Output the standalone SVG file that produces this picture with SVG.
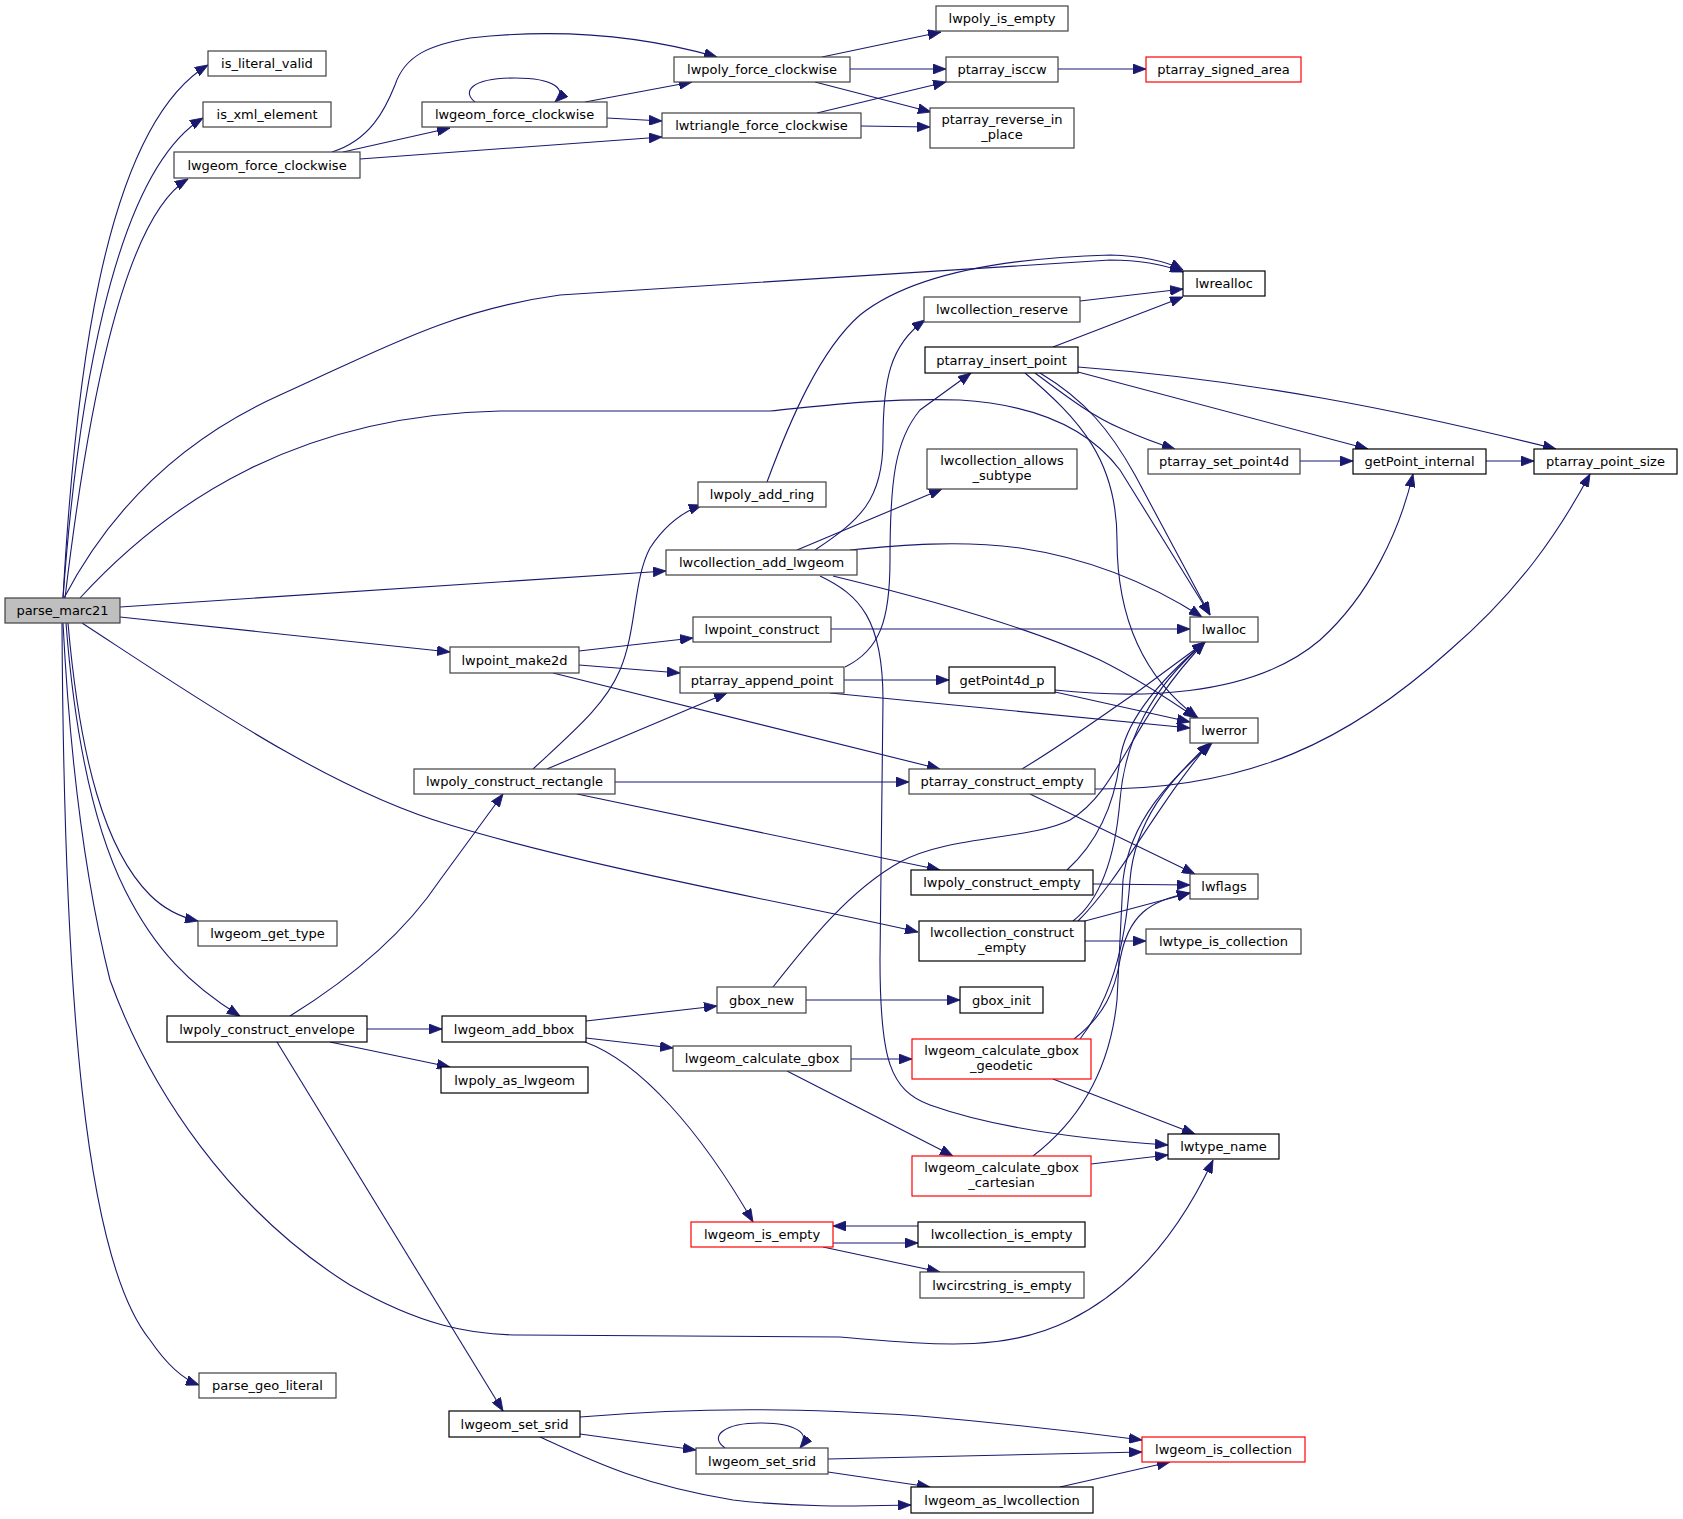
<svg xmlns="http://www.w3.org/2000/svg" width="1683" height="1519" viewBox="0 0 1683 1519">
<style>
rect.n{fill:#ffffff;stroke:#404040;stroke-width:1.2}
rect.k{fill:#ffffff;stroke:#000000;stroke-width:1.2}
rect.r{fill:#ffffff;stroke:#ff0000;stroke-width:1.2}
rect.g{fill:#bfbfbf;stroke:#404040;stroke-width:1.2}
text{font-family:"DejaVu Sans","Liberation Sans",sans-serif;font-size:13px;fill:#000000;text-anchor:middle}
#edges path{fill:none;stroke:#191970;stroke-width:1.1;marker-end:url(#a)}
</style>
<defs>
<marker id="a" markerUnits="userSpaceOnUse" viewBox="0 0 14 10" markerWidth="14" markerHeight="10" refX="13" refY="5" orient="auto">
<path d="M0,0 L13,5 L0,10 z" fill="#191970" stroke="#191970" stroke-width="0.8"/>
</marker>
</defs>
<rect x="0" y="0" width="1683" height="1519" fill="#ffffff"/>
<g id="edges">
<path d="M63,598 C74,400 100,130 208,65"/>
<path d="M63,598 C76,420 110,175 203,118"/>
<path d="M65,598 C85,430 120,220 188,179"/>
<path d="M64,598 C110,510 180,440 280,395 C380,350 450,310 560,295 L1110,260 C1140,260 1165,265 1183,272"/>
<path d="M80,598 C170,500 300,415 500,411 L770,411 C830,405 880,398 960,400 C1040,405 1090,430 1120,470 L1210,615"/>
<path d="M120,607 L666,571"/>
<path d="M120,617 L450,652"/>
<path d="M82,623 C200,700 330,790 450,825 C600,870 800,905 918,932"/>
<path d="M68,623 C80,760 105,850 150,895 C165,910 180,917 198,921"/>
<path d="M66,623 C75,740 95,830 125,890 C155,950 190,985 240,1016"/>
<path d="M63,623 C70,760 85,880 110,980 C150,1090 230,1210 350,1285 C420,1325 470,1335 520,1335 L840,1337 C950,1347 1010,1350 1070,1320 C1140,1285 1185,1220 1213,1160"/>
<path d="M62,623 C64,1000 85,1260 150,1340 C165,1362 180,1378 199,1385"/>
<path d="M332,152 C370,140 385,110 395,85 C405,55 430,45 470,38 C560,28 640,35 717,57"/>
<path d="M343,152 L450,128"/>
<path d="M360,159 L662,137"/>
<path d="M475,102 C462,92 470,78 515,78 C555,78 568,90 555,102"/>
<path d="M585,102 L692,82"/>
<path d="M607,118 L662,121"/>
<path d="M822,57 L941,32"/>
<path d="M850,69 L946,69"/>
<path d="M815,82 L931,112"/>
<path d="M817,113 L946,82"/>
<path d="M861,126 L930,127"/>
<path d="M1058,69 L1146,69"/>
<path d="M767,482 C790,420 820,350 860,315 C910,275 1000,258 1110,255 C1145,256 1168,262 1183,270"/>
<path d="M1080,301 L1183,289"/>
<path d="M1053,347 L1183,297"/>
<path d="M1078,367 C1250,380 1400,410 1556,449"/>
<path d="M1078,372 L1368,449"/>
<path d="M1035,373 C1065,395 1090,415 1120,428 C1140,437 1155,443 1175,449"/>
<path d="M1040,373 C1085,400 1110,430 1135,475 L1210,615"/>
<path d="M1025,373 C1080,420 1117,460 1117,540 C1117,640 1160,690 1198,718"/>
<path d="M1300,461 L1353,461"/>
<path d="M1486,461 L1534,461"/>
<path d="M815,550 C860,520 883,500 883,440 C883,380 890,345 925,320"/>
<path d="M797,550 L942,489"/>
<path d="M850,550 C900,545 960,540 1020,548 C1100,560 1160,590 1202,617"/>
<path d="M820,576 C860,595 883,620 883,700 L880,960 C880,1060 890,1090 930,1105 C1000,1130 1090,1140 1168,1145"/>
<path d="M833,576 C940,602 1040,632 1100,660 C1140,680 1170,700 1196,718"/>
<path d="M579,651 L693,638"/>
<path d="M579,665 L680,673"/>
<path d="M553,673 L940,769"/>
<path d="M831,629 L1190,629"/>
<path d="M845,667 C880,650 890,620 890,560 C890,480 895,440 920,410 L971,373"/>
<path d="M844,680 L949,680"/>
<path d="M830,693 L1190,728"/>
<path d="M533,769 C575,730 605,705 620,670 C637,630 633,580 650,548 C665,525 682,512 702,505"/>
<path d="M547,769 L727,693"/>
<path d="M615,782 L909,782"/>
<path d="M577,794 L940,870"/>
<path d="M1055,690 C1130,698 1250,700 1320,640 C1370,595 1400,530 1413,474"/>
<path d="M1055,692 L1190,722"/>
<path d="M1022,769 C1070,740 1110,710 1140,690 L1205,642"/>
<path d="M1095,789 C1250,790 1350,740 1450,650 C1520,590 1560,530 1590,474"/>
<path d="M1030,794 L1195,874"/>
<path d="M1067,870 C1100,840 1115,800 1120,760 C1125,720 1160,680 1205,642"/>
<path d="M1093,884 L1190,885"/>
<path d="M1073,921 C1100,900 1115,860 1120,800 C1125,740 1150,690 1205,642"/>
<path d="M1078,921 C1120,880 1160,800 1210,743"/>
<path d="M1085,921 L1190,893"/>
<path d="M1085,941 L1146,941"/>
<path d="M773,987 C810,940 850,890 900,862 C950,835 1030,840 1070,820 C1120,790 1130,720 1205,642"/>
<path d="M806,1000 L960,1000"/>
<path d="M586,1021 L717,1006"/>
<path d="M586,1038 L673,1048"/>
<path d="M585,1042 C640,1062 700,1130 753,1222"/>
<path d="M290,1016 C340,985 400,940 440,880 L503,794"/>
<path d="M367,1029 L442,1029"/>
<path d="M330,1042 L450,1067"/>
<path d="M277,1042 L503,1411"/>
<path d="M851,1059 L912,1059"/>
<path d="M787,1071 L953,1156"/>
<path d="M1080,1039 C1110,1000 1125,950 1130,880 C1135,820 1170,780 1210,743"/>
<path d="M1074,1039 C1105,1015 1115,990 1120,960 C1128,915 1150,900 1190,893"/>
<path d="M1053,1079 L1195,1134"/>
<path d="M1033,1156 C1080,1120 1110,1070 1117,1000 L1123,880 C1130,820 1170,780 1212,743"/>
<path d="M1091,1164 L1168,1155"/>
<path d="M833,1243 L918,1243"/>
<path d="M918,1226 L833,1226"/>
<path d="M823,1247 L940,1272"/>
<path d="M580,1417 C700,1407 800,1408 920,1416 C1000,1423 1080,1432 1142,1440"/>
<path d="M580,1434 L696,1450"/>
<path d="M540,1437 C590,1460 640,1485 733,1500 C800,1508 860,1506 911,1505"/>
<path d="M725,1448 C708,1436 725,1423 760,1423 C795,1423 812,1433 800,1448"/>
<path d="M828,1459 L1142,1452"/>
<path d="M828,1472 L930,1487"/>
<path d="M1060,1487 L1170,1462"/>
</g>
<g id="parse_marc21"><rect class="g" x="5" y="598" width="115" height="25"/><text x="62.5" y="615">parse_marc21</text></g>
<g id="is_literal_valid"><rect class="n" x="208" y="51" width="118" height="25"/><text x="267" y="68">is_literal_valid</text></g>
<g id="is_xml_element"><rect class="n" x="203" y="102" width="128" height="25"/><text x="267" y="119">is_xml_element</text></g>
<g id="lwgeom_force_clockwise_1"><rect class="n" x="174" y="152" width="186" height="26"/><text x="267" y="170">lwgeom_force_clockwise</text></g>
<g id="lwgeom_get_type"><rect class="n" x="198" y="921" width="139" height="25"/><text x="267.5" y="938">lwgeom_get_type</text></g>
<g id="lwpoly_construct_envelope"><rect class="k" x="167" y="1016" width="200" height="26"/><text x="267" y="1034">lwpoly_construct_envelope</text></g>
<g id="parse_geo_literal"><rect class="n" x="199" y="1373" width="137" height="25"/><text x="267.5" y="1390">parse_geo_literal</text></g>
<g id="lwgeom_force_clockwise_2"><rect class="n" x="422" y="102" width="185" height="25"/><text x="514.5" y="119">lwgeom_force_clockwise</text></g>
<g id="lwpoint_make2d"><rect class="n" x="450" y="647" width="129" height="26"/><text x="514.5" y="665">lwpoint_make2d</text></g>
<g id="lwpoly_construct_rectangle"><rect class="n" x="414" y="769" width="201" height="25"/><text x="514.5" y="786">lwpoly_construct_rectangle</text></g>
<g id="lwgeom_add_bbox"><rect class="k" x="442" y="1016" width="144" height="26"/><text x="514" y="1034">lwgeom_add_bbox</text></g>
<g id="lwpoly_as_lwgeom"><rect class="k" x="441" y="1067" width="147" height="26"/><text x="514.5" y="1085">lwpoly_as_lwgeom</text></g>
<g id="lwgeom_set_srid_1"><rect class="k" x="449" y="1411" width="131" height="26"/><text x="514.5" y="1429">lwgeom_set_srid</text></g>
<g id="lwpoly_force_clockwise"><rect class="n" x="674" y="57" width="176" height="25"/><text x="762" y="74">lwpoly_force_clockwise</text></g>
<g id="lwtriangle_force_clockwise"><rect class="n" x="662" y="113" width="199" height="25"/><text x="761.5" y="130">lwtriangle_force_clockwise</text></g>
<g id="lwpoly_add_ring"><rect class="n" x="698" y="482" width="128" height="25"/><text x="762" y="499">lwpoly_add_ring</text></g>
<g id="lwcollection_add_lwgeom"><rect class="n" x="666" y="550" width="191" height="25"/><text x="761.5" y="567">lwcollection_add_lwgeom</text></g>
<g id="lwpoint_construct"><rect class="n" x="693" y="617" width="138" height="25"/><text x="762" y="634">lwpoint_construct</text></g>
<g id="ptarray_append_point"><rect class="n" x="680" y="667" width="164" height="26"/><text x="762" y="685">ptarray_append_point</text></g>
<g id="gbox_new"><rect class="n" x="717" y="987" width="89" height="26"/><text x="761.5" y="1005">gbox_new</text></g>
<g id="lwgeom_calculate_gbox"><rect class="n" x="673" y="1046" width="178" height="25"/><text x="762" y="1063">lwgeom_calculate_gbox</text></g>
<g id="lwgeom_is_empty"><rect class="r" x="691" y="1222" width="142" height="25"/><text x="762" y="1239">lwgeom_is_empty</text></g>
<g id="lwgeom_set_srid_2"><rect class="n" x="696" y="1448" width="132" height="26"/><text x="762" y="1466">lwgeom_set_srid</text></g>
<g id="lwpoly_is_empty"><rect class="n" x="936" y="6" width="132" height="25"/><text x="1002" y="23">lwpoly_is_empty</text></g>
<g id="ptarray_isccw"><rect class="n" x="946" y="57" width="112" height="25"/><text x="1002" y="74">ptarray_isccw</text></g>
<g id="ptarray_reverse_in_place"><rect class="n" x="930" y="108" width="144" height="40"/><text x="1002" y="124">ptarray_reverse_in</text><text x="1002" y="139">_place</text></g>
<g id="lwcollection_reserve"><rect class="n" x="924" y="297" width="156" height="25"/><text x="1002" y="314">lwcollection_reserve</text></g>
<g id="ptarray_insert_point"><rect class="k" x="925" y="347" width="153" height="26"/><text x="1001.5" y="365">ptarray_insert_point</text></g>
<g id="lwcollection_allows_subtype"><rect class="n" x="927" y="449" width="150" height="40"/><text x="1002" y="465">lwcollection_allows</text><text x="1002" y="480">_subtype</text></g>
<g id="getPoint4d_p"><rect class="k" x="949" y="667" width="106" height="26"/><text x="1002" y="685">getPoint4d_p</text></g>
<g id="ptarray_construct_empty"><rect class="n" x="909" y="769" width="186" height="25"/><text x="1002" y="786">ptarray_construct_empty</text></g>
<g id="lwpoly_construct_empty"><rect class="k" x="911" y="870" width="182" height="25"/><text x="1002" y="887">lwpoly_construct_empty</text></g>
<g id="lwcollection_construct_empty"><rect class="k" x="919" y="921" width="166" height="40"/><text x="1002" y="937">lwcollection_construct</text><text x="1002" y="952">_empty</text></g>
<g id="gbox_init"><rect class="k" x="960" y="987" width="83" height="26"/><text x="1001.5" y="1005">gbox_init</text></g>
<g id="lwgeom_calculate_gbox_geodetic"><rect class="r" x="912" y="1039" width="179" height="40"/><text x="1001.5" y="1055">lwgeom_calculate_gbox</text><text x="1001.5" y="1070">_geodetic</text></g>
<g id="lwgeom_calculate_gbox_cartesian"><rect class="r" x="912" y="1156" width="179" height="40"/><text x="1001.5" y="1172">lwgeom_calculate_gbox</text><text x="1001.5" y="1187">_cartesian</text></g>
<g id="lwcollection_is_empty"><rect class="k" x="918" y="1222" width="167" height="25"/><text x="1001.5" y="1239">lwcollection_is_empty</text></g>
<g id="lwcircstring_is_empty"><rect class="n" x="920" y="1272" width="164" height="26"/><text x="1002" y="1290">lwcircstring_is_empty</text></g>
<g id="lwgeom_as_lwcollection"><rect class="k" x="911" y="1487" width="182" height="26"/><text x="1002" y="1505">lwgeom_as_lwcollection</text></g>
<g id="ptarray_signed_area"><rect class="r" x="1146" y="57" width="155" height="25"/><text x="1223.5" y="74">ptarray_signed_area</text></g>
<g id="lwrealloc"><rect class="k" x="1183" y="271" width="82" height="25"/><text x="1224" y="288">lwrealloc</text></g>
<g id="ptarray_set_point4d"><rect class="n" x="1148" y="449" width="152" height="25"/><text x="1224" y="466">ptarray_set_point4d</text></g>
<g id="lwalloc"><rect class="n" x="1190" y="617" width="68" height="25"/><text x="1224" y="634">lwalloc</text></g>
<g id="lwerror"><rect class="n" x="1190" y="718" width="68" height="25"/><text x="1224" y="735">lwerror</text></g>
<g id="lwflags"><rect class="n" x="1190" y="874" width="68" height="25"/><text x="1224" y="891">lwflags</text></g>
<g id="lwtype_is_collection"><rect class="n" x="1146" y="929" width="155" height="25"/><text x="1223.5" y="946">lwtype_is_collection</text></g>
<g id="lwtype_name"><rect class="k" x="1168" y="1134" width="111" height="25"/><text x="1223.5" y="1151">lwtype_name</text></g>
<g id="lwgeom_is_collection"><rect class="r" x="1142" y="1437" width="163" height="25"/><text x="1223.5" y="1454">lwgeom_is_collection</text></g>
<g id="getPoint_internal"><rect class="k" x="1353" y="449" width="133" height="25"/><text x="1419.5" y="466">getPoint_internal</text></g>
<g id="ptarray_point_size"><rect class="k" x="1534" y="449" width="143" height="25"/><text x="1605.5" y="466">ptarray_point_size</text></g>
</svg>
